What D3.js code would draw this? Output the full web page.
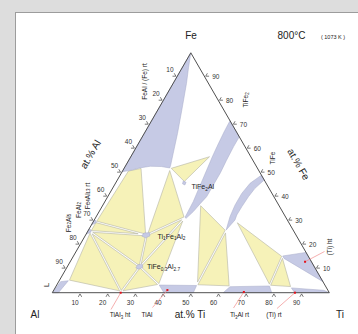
<!DOCTYPE html>
<html><head><meta charset="utf-8">
<script src="https://cdn.jsdelivr.net/npm/d3@7"></script>
<style>
html,body{margin:0;padding:0;background:#dcdcdc;}
svg{display:block;font-family:"Liberation Sans",Arial,sans-serif;}
</style></head><body>
<svg id="chart" width="358" height="334"></svg>
<script>
// Isothermal section Al–Fe–Ti at 800 °C. Every point is [at.% Ti, at.% Fe]; Al is the balance.
const tickValues = [10, 20, 30, 40, 50, 60, 70, 80, 90];

// invariant corners of the three-phase fields
const ptFeAlCorner = [16.4, 52.0];
const ptFeAlEdgeA = [1.8, 51.0];
const ptFeAlEdgeB = [6.2, 52.2];
const ptTiFe2Upper = [29.1, 57.4];
const ptTiFe2Al = [24.7, 45.9];
const ptTiFe2Tip = [32.2, 31.4];
const ptTiFe2Lower = [34.8, 37.0];
const ptTau1 = [22.0, 24.0];
const ptTau2 = [26.2, 10.8];
const ptTiAl3 = [24.7, 0.3];
const ptTiAlLeft = [37.0, 3.2];
const ptTiAlRight = [50.6, 3.0];
const ptTiFeTip = [49.7, 26.1];
const ptTiFeFoot = [50.8, 30.3];
const ptTi3AlLeft = [62.9, 2.5];
const ptTi3AlRight = [77.0, 2.8];
const ptTiHtCorner = [75.5, 15.3];
const ptTiRt = [85.3, 2.2];
const ptFe2Al5 = [0.8, 29.6];
const ptFe4Al13 = [0.8, 25.6];
const ptLiquid = [3.3, 5.0];

// three-phase fields (tie triangles)
const threePhaseFields = [
  [ptFeAlEdgeA, ptFeAlEdgeB, ptTau1, ptFe2Al5],
  [ptFeAlCorner, ptTiFe2Tip, ptTau1],
  [ptFeAlCorner, ptTiFe2Upper, ptTiFe2Al],
  [ptTau1, ptTiFe2Tip, ptTau2],
  [ptTau2, ptTiFe2Tip, ptTiAlLeft],
  [ptTau2, ptTiAl3, ptTiAlLeft],
  [ptFe4Al13, ptTau2, ptTiAl3],
  [ptFe4Al13, ptTiAl3, ptLiquid],
  [ptFe4Al13, ptTau1, ptTau2],
  [ptFe2Al5, ptFe4Al13, ptTau1],
  [ptTiFe2Lower, ptTiAlRight, ptTiFeTip],
  [ptTiFeTip, ptTiAlRight, ptTi3AlLeft],
  [ptTiFeFoot, ptTiHtCorner, ptTi3AlRight],
  [ptTiHtCorner, ptTi3AlRight, ptTiRt]
];

// single-phase fields
const fieldFeAl = [[0,100],[2.2,94],[4.8,87.3],[8.7,76.1],[12.0,66.4],[14.6,58.1],[16.2,53.0],[16.4,52.0],[13,52.6],[9,52.7],[5.5,52.0],[3,51.1],[0,50.4]];
const fieldTiFe2 = [[28.3,71.7],[28.5,67],[28.9,62],[29.4,57],[30.2,51],[31.1,44],[31.9,38],[32.2,31.4],[32.8,31.0],[34.0,33.8],[34.8,37.0],[35.7,40],[35.7,45],[35.7,50],[35.3,55],[35.0,61],[35.0,65]];
const fieldTiFe = [[51.0,49.0],[48.6,45.6],[47.7,41.4],[47.7,36.5],[48.3,31.7],[49.7,26.1],[50.8,30.3],[50.4,32.4],[50.5,35.9],[50.8,40.0],[51.4,43.5],[53.0,47.0]];
const fieldTiHt = [[75.5,15.3],[83.2,16.8],[95.4,4.6],[76.5,14.3]];
const fieldTiAl = [[37.0,3.2],[50.6,3.0],[50.9,0],[40.3,0]];
const fieldTi3Al = [[62.9,2.5],[77.0,2.8],[79.2,0],[61.7,0]];
const fieldTiRt = [[85.3,2.0],[97.5,1.0],[100,0],[87.5,0]];
const fieldLiquid = [[0,0],[0.7,4.6],[3.3,5.0],[2.2,0]];
const fieldTiFe2Al = [[24.0,46.6],[25.3,46.0],[25.4,44.9],[24.3,45.4]];
const fieldTau1 = [[20.6,24.9],[22.6,25.0],[23.4,23.6],[22.2,22.9],[20.5,23.6]];
const fieldTau2 = [[25.0,11.7],[26.6,11.8],[27.4,10.6],[26.4,9.8],[25.0,10.3]];
const fieldFe2Al5 = [[0,30.4],[0.9,29.9],[1.2,29.1],[0,28.3]];
const fieldFe4Al13 = [[0,26.6],[1.0,26.1],[1.3,25.2],[0,24.4]];
const singlePhaseFields = [fieldFeAl, fieldTiFe2, fieldTiFe, fieldTiHt, fieldTiAl, fieldTi3Al,
  fieldTiRt, fieldLiquid, fieldTiFe2Al, fieldTau1, fieldTau2, fieldFe2Al5, fieldFe4Al13];

// marked phase compositions on the labels below / beside the triangle
const markerNames = ["TiAl_{3} ht", "TiAl", "Ti_{3}Al rt", "(Ti) rt", "(Ti) ht"];
const markerTi = [24.7, 41.0, 69.0, 87.6, 84.8];
const markerFe = [0.0, 1.1, 0.3, 0.0, 12.9];

// ---------- drawing ----------
const W = 358, H = 334;
const svg = d3.select("#chart");
const side = 277, x0 = 52.3, yBase = 292.7, h60 = Math.sqrt(3) / 2;
const s = d3.scaleLinear().domain([0, 100]).range([0, side]);
const proj = ([ti, fe]) => [x0 + s(ti + fe / 2), yBase - s(fe) * h60];

const YELLOW = "#f6f2b8", BLUE = "#c6cae5";

svg.append("rect").attr("width", W).attr("height", H).attr("fill", "#dddddd");
svg.append("rect").attr("x", 15.5).attr("y", 12.5).attr("width", 360).attr("height", 340)
  .attr("fill", "#ffffff").attr("stroke", "#9c9c9c").attr("stroke-width", 1);

// shrink a polygon (pixel space) so neighbouring tie triangles leave a thin two-phase gap
function inset(pts, d) {
  const n = pts.length;
  let area = 0;
  for (let i = 0; i < n; i++) {
    const a = pts[i], b = pts[(i + 1) % n];
    area += a[0] * b[1] - b[0] * a[1];
  }
  const sg = area > 0 ? 1 : -1;
  const lines = pts.map((a, i) => {
    const b = pts[(i + 1) % n];
    const dx = b[0] - a[0], dy = b[1] - a[1], L = Math.hypot(dx, dy);
    const nx = -dy / L * sg, ny = dx / L * sg;
    return { p: [a[0] + nx * d, a[1] + ny * d], r: [dx, dy], n: [nx, ny] };
  });
  return pts.map((a, i) => {
    const l1 = lines[(i - 1 + n) % n], l2 = lines[i];
    const cr = l1.r[0] * l2.r[1] - l1.r[1] * l2.r[0];
    if (Math.abs(cr) < 1e-9) return [a[0] + l2.n[0] * d, a[1] + l2.n[1] * d];
    const qx = l2.p[0] - l1.p[0], qy = l2.p[1] - l1.p[1];
    const t = (qx * l2.r[1] - qy * l2.r[0]) / cr;
    return [l1.p[0] + l1.r[0] * t, l1.p[1] + l1.r[1] * t];
  });
}

const closed = d3.line().curve(d3.curveLinearClosed);

svg.append("g").selectAll("path").data(threePhaseFields).join("path")
  .attr("d", f => closed(inset(f.map(proj), 0.8)))
  .attr("fill", YELLOW).attr("stroke", "#b3b3a6").attr("stroke-width", 0.6);

svg.append("g").selectAll("path").data(singlePhaseFields).join("path")
  .attr("d", f => closed(f.map(proj)))
  .attr("fill", BLUE).attr("stroke", "#a7abc8").attr("stroke-width", 0.5);

// triangle frame
svg.append("path").attr("d", closed([[0, 100], [0, 0], [100, 0]].map(proj)))
  .attr("fill", "none").attr("stroke", "#505050").attr("stroke-width", 1);

// chevron ticks and tick labels
const tickG = svg.append("g").attr("stroke", "#404040").attr("stroke-width", 0.7).attr("fill", "none");
const labelG = svg.append("g").attr("font-size", 6.5).attr("fill", "#333");
const leg = 3.4;
function chevron(p, off, d1, d2) {
  const a = [p[0] + off[0], p[1] + off[1]];
  tickG.append("path").attr("d", `M${a[0] + d1[0] * leg},${a[1] + d1[1] * leg}L${a[0]},${a[1]}L${a[0] + d2[0] * leg},${a[1] + d2[1] * leg}`);
}
tickValues.forEach(v => {
  const pb = proj([v, 0]);
  chevron(pb, [0, 1.2], [-0.5, h60], [0.5, h60]);
  labelG.append("text").attr("x", pb[0] - 5).attr("y", 305).attr("text-anchor", "middle").text(v);
  const pr = proj([100 - v, v]);
  chevron(pr, [h60 * 1.2, -0.6], [1, 0], [0.5, -h60]);
  labelG.append("text").attr("x", pr[0] + 7.5).attr("y", pr[1] + 2.3).text(v);
  const pl = proj([0, 100 - v]);
  chevron(pl, [-h60 * 1.2, -0.6], [-1, 0], [-0.5, -h60]);
  labelG.append("text").attr("x", pl[0] - 7).attr("y", pl[1] - 4.7).attr("text-anchor", "middle").text(v);
});

// text with subscripts written as _{..}
function rich(sel, str, size) {
  const re = /_\{([^}]*)\}|([^_]+)/g;
  let m, down = false;
  const sh = size * 0.28;
  while ((m = re.exec(str)) !== null) {
    if (m[1] !== undefined) {
      sel.append("tspan").attr("font-size", size * 0.68).attr("dy", down ? 0 : sh).text(m[1]);
      down = true;
    } else {
      sel.append("tspan").attr("dy", down ? -sh : 0).text(m[2]);
      down = false;
    }
  }
}
function label(str, x, y, size, opts = {}) {
  const t = svg.append("text").attr("font-size", size).attr("fill", opts.fill || "#222")
    .attr("text-anchor", opts.anchor || "middle");
  if (opts.rotate !== undefined) {
    t.attr("transform", `translate(${x},${y}) rotate(${opts.rotate})`).attr("dominant-baseline", "central");
  } else {
    t.attr("x", x).attr("y", y);
  }
  rich(t, str, size);
  return t;
}

// corner and axis titles
label("Fe", 191, 39, 10);
label("Al", 35, 318, 10);
label("Ti", 340, 318, 10);
label("at.% Ti", 190, 318, 10);
label("at.% Al", 90, 154, 10, { rotate: -60 });
label("at.% Fe", 299, 164, 10, { rotate: 60 });
label("800°C", 291.5, 39, 10);
label("( 1073 K )", 333, 38.5, 5.5);

// phase names
label("FeAl / (Fe) rt", 143.5, 81.5, 6.5, { rotate: -90 });
label("TiFe_{2}", 245, 100, 6.5, { rotate: -90 });
label("TiFe", 272, 158, 6.5, { rotate: -90 });
label("(Ti) ht", 329, 247, 6.5, { rotate: -90 });
label("Fe_{2}Al_{5}", 67.5, 223, 6.5, { rotate: -90 });
label("FeAl_{2}", 77.5, 210, 6.5, { rotate: -90 });
label("Fe_{4}Al_{13} rt", 86.5, 196, 6.5, { rotate: -90 });
label("L", 46, 285, 8, { rotate: -90 });
label("TiFe_{2}Al", 191.5, 189, 7, { anchor: "start" });
label("Ti_{1}Fe_{1}Al_{2}", 157.5, 238.5, 7, { anchor: "start" });
label("TiFe_{0.3}Al_{2.7}", 147, 269, 7, { anchor: "start" });

// marker labels with leader lines
const markerLabelPos = [[120, 317], [147, 317], [239.5, 317], [274, 317], [329, 247]];
const leaderEnd = [[111, 309.5], [152.5, 307.5], [233.5, 308], [277, 308.5], [324.5, 251.5]];
markerNames.forEach((nm, i) => {
  const p = proj([markerTi[i], markerFe[i]]);
  svg.append("line").attr("x1", p[0]).attr("y1", p[1])
    .attr("x2", leaderEnd[i][0]).attr("y2", leaderEnd[i][1])
    .attr("stroke", "#f08c8c").attr("stroke-width", 0.7);
  svg.append("rect").attr("x", p[0] - 1).attr("y", p[1] - 1).attr("width", 2).attr("height", 2)
    .attr("fill", "#e3121b");
  if (i < 4) label(nm, markerLabelPos[i][0], markerLabelPos[i][1], 6.5);
});
</script>
</body></html>
